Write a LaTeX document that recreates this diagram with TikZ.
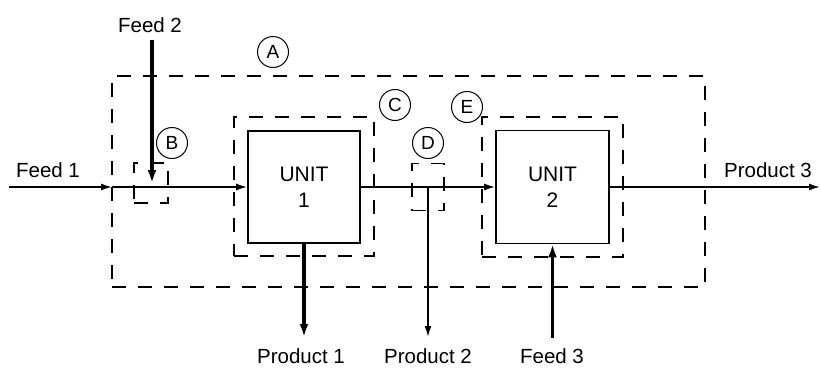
\documentclass[tikz,border=0pt]{standalone}
\usepackage{fontspec}
\setmainfont{Liberation Sans}
\usetikzlibrary{arrows.meta}

\begin{document}
\begin{tikzpicture}[x=1pt,y=-1pt,>={Latex[length=11pt,width=7pt]},
    unit/.style={draw,line width=1.6pt,inner sep=0pt,align=center,font=\fontsize{21}{26}\selectfont},
    env/.style={draw,line width=1.6pt,dash pattern=on 14pt off 12pt,inner sep=0pt},
    tag/.style={draw,circle,line width=1pt,minimum size=31pt,inner sep=0pt,font=\fontsize{19}{19}\selectfont},
    lbl/.style={anchor=base,inner sep=0pt,font=\fontsize{20.5}{24}\selectfont},
    flow/.style={->,line width=1.6pt},
    bigflow/.style={->,line width=3.4pt,>={Latex[length=13pt,width=9pt]}}]
  \useasboundingbox (0,0) rectangle (821,367);
  % envelopes
  \node[env,minimum width=593pt,minimum height=211pt] (envA) at (408.5,181.5) {};
  \node[env,minimum width=34pt,minimum height=40pt] (envB) at (151,183) {};
  \node[env,minimum width=140pt,minimum height=139pt] (envC) at (304,186.5) {};
  \node[env,minimum width=32pt,minimum height=47pt] (envD) at (428,187) {};
  \node[env,minimum width=141pt,minimum height=140pt] (envE) at (552.5,187) {};
  \node[tag] (tagA) at (273,52) {A};
  \node[tag] (tagB) at (172,143) {B};
  \node[tag] (tagC) at (395,105) {C};
  \node[tag] (tagD) at (428,143) {D};
  \node[tag] (tagE) at (467,107) {E};
  % units
  \node[unit,minimum width=112pt,minimum height=112pt] (u1) at (304,187) {UNIT\\1};
  \node[unit,minimum width=113pt,minimum height=113pt] (u2) at (552.5,187) {UNIT\\2};
  % stream ends
  \coordinate (f1in) at (9,187);
  \coordinate (aleft) at (112,187);
  \coordinate (f2in) at (152,40);
  \coordinate (mix) at (152,183);
  \coordinate (split) at (428,187);
  \coordinate (p1out) at (304,337);
  \coordinate (p2out) at (428,337);
  \coordinate (f3in) at (552.5,338);
  \coordinate (p3out) at (820,187);
  \node[lbl] (feed1) at (48,177) {Feed 1};
  \node[lbl] (feed2) at (150,32) {Feed 2};
  \node[lbl] (prod1) at (301,363) {Product 1};
  \node[lbl] (prod2) at (428,363) {Product 2};
  \node[lbl] (feed3) at (552,363) {Feed 3};
  \node[lbl] (prod3) at (768,177) {Product 3};
  \draw[flow] (f1in) -- (aleft);
  \draw[flow] (aleft) -- (u1.west);
  \draw[bigflow] (f2in) -- (mix);
  \draw[flow] (u1.east) -- (u2.west);
  \draw[flow] (split) -- (p2out);
  \draw[bigflow] (u1.south) -- (p1out);
  \draw[bigflow] (f3in) -- (u2.south);
  \draw[flow] (u2.east) -- (p3out);
\end{tikzpicture}
\end{document}
